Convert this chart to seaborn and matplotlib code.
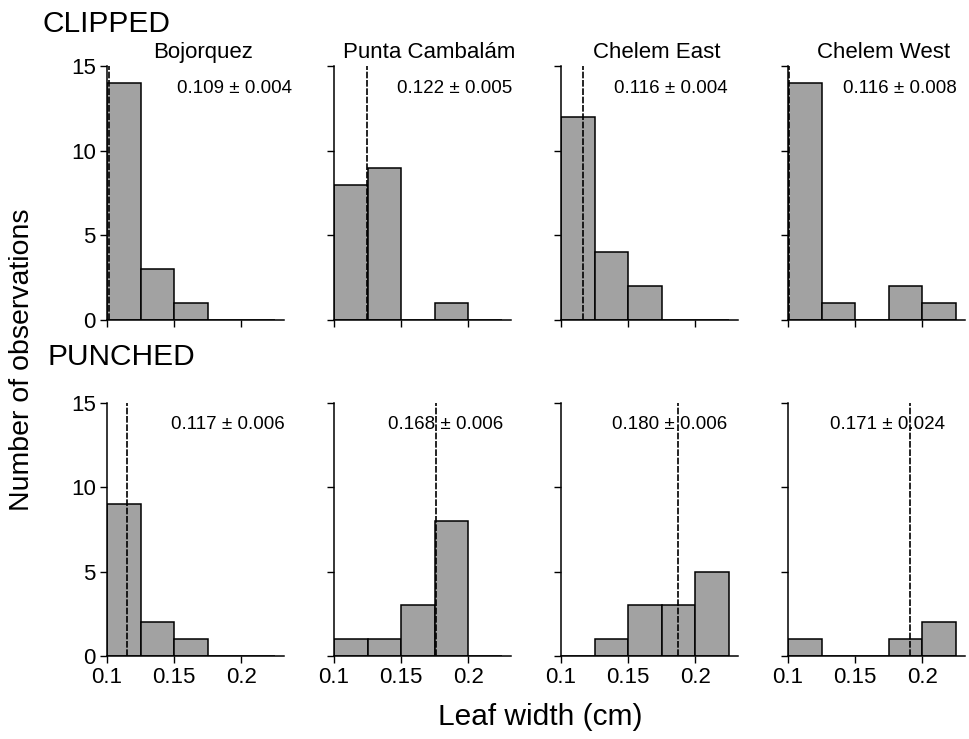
import numpy as np
import matplotlib
matplotlib.use("Agg")
import matplotlib.pyplot as plt
import seaborn as sns

sns.set_theme(style="ticks")
plt.rcParams['font.family'] = ['Liberation Sans', 'DejaVu Sans']
plt.rcParams['text.color'] = 'black'
plt.rcParams['axes.edgecolor'] = 'black'
plt.rcParams['xtick.color'] = 'black'
plt.rcParams['ytick.color'] = 'black'

#data
sites = ["Bojorquez", "Punta Cambalám", "Chelem East", "Chelem West"]
bin_edges = [0.1, 0.125, 0.15, 0.175, 0.2, 0.225]
clipped_counts = [[14, 3, 1, 0, 0],
                  [8, 9, 0, 1, 0],
                  [12, 4, 2, 0, 0],
                  [14, 1, 0, 2, 1]]
punched_counts = [[9, 2, 1, 0, 0],
                  [1, 1, 3, 8, 0],
                  [0, 1, 3, 3, 5],
                  [1, 0, 0, 1, 2]]
clipped_labels = ["0.109 ± 0.004", "0.122 ± 0.005", "0.116 ± 0.004", "0.116 ± 0.008"]
punched_labels = ["0.117 ± 0.006", "0.168 ± 0.006", "0.180 ± 0.006", "0.171 ± 0.024"]
clipped_lines = [0.1015, 0.1246, 0.1164, 0.1008]
punched_lines = [0.1147, 0.176, 0.1875, 0.191]
x_ticks = [0.1, 0.15, 0.2]
x_ticklabels = ["0.1", "0.15", "0.2"]
y_ticks = [0, 5, 10, 15]

#layout (pixels of a 969x739 figure)
W, H = 969, 739
col_left = [107, 334, 561, 788]
col_w = 177
rows = {"clipped": (320, 254), "punched": (656, 253)}
label_x = {"clipped": [0.238, 0.2328, 0.2239, 0.226],
           "punched": [0.2328, 0.226, 0.2239, 0.217]}

bar_color = "#a2a2a2"
centers = [(a + b) / 2 for a, b in zip(bin_edges[:-1], bin_edges[1:])]

fig = plt.figure(figsize=(W / 100, H / 100), dpi=100)

for row, counts, labels, lines in [("clipped", clipped_counts, clipped_labels, clipped_lines),
                                   ("punched", punched_counts, punched_labels, punched_lines)]:
    base, hgt = rows[row]
    for i, site in enumerate(sites):
        ax = fig.add_axes([col_left[i] / W, 1 - base / H, col_w / W, hgt / H])
        sns.histplot(x=centers, weights=counts[i], bins=bin_edges, ax=ax,
                     color=bar_color, edgecolor="black", linewidth=1.1, alpha=1)
        ax.vlines(lines[i], 0, 15, color="black", linewidth=1.2,
                  linestyle=(0, (4, 1)), clip_on=False, zorder=3)
        ax.set_xlim(0.1, 0.232)
        ax.set_ylim(0, 15)
        sns.despine(ax=ax)
        ax.spines['left'].set_linewidth(1.1)
        ax.spines['bottom'].set_linewidth(1.1)
        ax.set_xticks(x_ticks)
        ax.set_yticks(y_ticks)
        ax.tick_params(direction="out", length=5, width=1, colors="black",
                       labelsize=16, pad=3)
        ax.set_xlabel("")
        ax.set_ylabel("")
        if row == "punched":
            ax.set_xticklabels(x_ticklabels)
        else:
            ax.set_xticklabels([])
            ax.text(0.54, 1.052, site, transform=ax.transAxes, ha="center",
                    va="center", fontsize=16)
        if i > 0:
            ax.set_yticklabels([])
        ax.text(label_x[row][i], 13.7, labels[i], ha="right", va="center",
                fontsize=13.5)
        ax.set_facecolor("white")

fig.text(43 / W, 1 - 24 / H, "CLIPPED", ha="left", va="center", fontsize=21.5)
fig.text(47 / W, 1 - 357 / H, "PUNCHED", ha="left", va="center", fontsize=21.5)
fig.text(22 / W, 1 - 360 / H, "Number of observations", rotation=90,
         ha="center", va="center", fontsize=20.5)
fig.text(540 / W, 1 - 717 / H, "Leaf width (cm)", ha="center", va="center",
         fontsize=21.5)

plt.savefig("out.png", dpi=100, facecolor="white")
plt.close()
